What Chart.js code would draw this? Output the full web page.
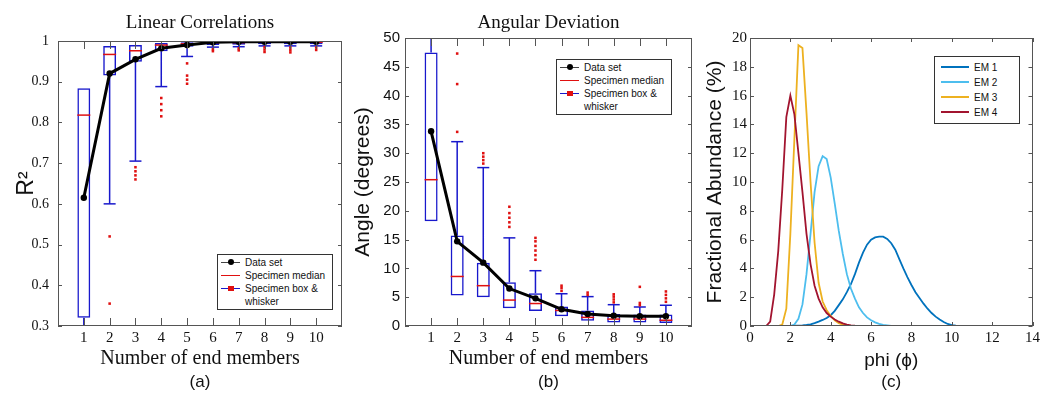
<!DOCTYPE html>
<html>
<head>
<meta charset="utf-8">
<script src="https://cdn.jsdelivr.net/npm/chart.js@4.4.1/dist/chart.umd.min.js"></script>
<style>
    body { margin: 0; background: #fff; }
    .panel { position: absolute; top: 0; height: 393px; }
    .legend {
        position: absolute; box-sizing: border-box; border: 1px solid #333; background: #fff;
        font: 10px 'Liberation Sans', Arial, sans-serif; color: #111; line-height: 13px; padding: 1px 3px;
    }
    .legend .row { display: flex; }
    .legend .key { position: relative; height: 13px; margin-right: 5px; flex: none; }
    .legend .key .ln { position: absolute; left: 0; right: 0; top: 6px; height: 1px; }
    .legend .key .mk { position: absolute; left: calc(50% - 3px); top: 3px; width: 6px; height: 6px; }
    .legend .key .dot { background: #000; border-radius: 50%; }
    .legend .key .sq { background: #e01010; top: 4px; height: 5px; }
</style>
</head>
<body>
<div class="panel" style="left:0;width:350px"><canvas id="chartA"></canvas></div>
<div class="panel" style="left:350px;width:350px"><canvas id="chartB"></canvas></div>
<div class="panel" style="left:700px;width:343px"><canvas id="chartC"></canvas></div>
<div id="legendA" class="legend" style="left:217px;top:254px;width:116px"></div>
<div id="legendB" class="legend" style="left:556px;top:59px;width:116px"></div>
<div id="legendC" class="legend" style="left:934px;top:56px;width:86px;line-height:15px;padding:3px 6px"></div>
<script>
const members = [1, 2, 3, 4, 5, 6, 7, 8, 9, 10];

// (a) linear correlations (R^2)
const r2DataSet = [0.615, 0.92, 0.955, 0.982, 0.99, 0.997, 0.998, 0.998, 0.998, 0.998];
const r2Median = [0.818, 0.967, 0.976, 0.990, 0.993, 0.996, 0.996, 0.997, 0.997, 0.997];
const r2Q1 = [0.32, 0.915, 0.949, 0.975, 0.986, 0.990, 0.991, 0.992, 0.992, 0.992];
const r2Q3 = [0.884, 0.988, 0.990, 0.995, 0.997, 0.998, 0.998, 0.999, 0.999, 0.999];
const r2Low = [0.28, 0.60, 0.705, 0.888, 0.962, 0.985, 0.986, 0.988, 0.988, 0.988];
const r2High = [0.884, 0.988, 0.990, 0.995, 0.997, 0.998, 0.998, 0.999, 0.999, 0.999];
const r2Outliers = [[], [0.52, 0.355], [0.66, 0.67, 0.68, 0.69], [0.815, 0.83, 0.845, 0.86],
    [0.945, 0.915, 0.905, 0.895], [0.975, 0.98], [0.977, 0.982], [0.973, 0.979, 0.985],
    [0.972, 0.978, 0.984], [0.978, 0.984]];

// (b) angular deviation (degrees)
const angleDataSet = [33.8, 14.7, 11.0, 6.5, 4.8, 2.9, 2.1, 1.8, 1.7, 1.7];
const angleMedian = [25.4, 8.6, 7.0, 4.5, 3.9, 2.7, 1.5, 1.2, 1.2, 1.0];
const angleQ1 = [18.2, 5.3, 5.0, 3.1, 2.6, 1.7, 0.9, 0.6, 0.6, 0.5];
const angleQ3 = [47.5, 15.7, 11.0, 7.6, 5.7, 3.4, 2.7, 2.1, 2.0, 2.0];
const angleLow = [18.2, 5.3, 5.0, 3.1, 2.6, 1.7, 0.9, 0.6, 0.6, 0.5];
const angleHigh = [55, 32.0, 27.5, 15.3, 9.6, 5.6, 5.1, 3.7, 3.3, 3.6];
const angleOutliers = [[], [33.7, 42.0, 47.3], [28.2, 28.8, 29.4, 30.0], [17.2, 18.0, 18.8, 19.6, 20.7],
    [11.5, 12.3, 13.1, 13.9, 14.7, 15.3], [6.1, 6.6, 7.0], [5.4, 5.8], [4.1, 4.6, 5.1, 5.5],
    [3.6, 4.0, 6.8], [4.2, 4.8, 5.4, 6.0]];

// (c) end member grain size distributions
const phi = [0, 0.2, 0.4, 0.6, 0.8, 1, 1.2, 1.4, 1.6, 1.8, 2, 2.2, 2.4, 2.6, 2.8, 3, 3.2, 3.4, 3.6, 3.8,
    4, 4.2, 4.4, 4.6, 4.8, 5, 5.2, 5.4, 5.6, 5.8, 6, 6.2, 6.4, 6.6, 6.8, 7, 7.2, 7.4, 7.6, 7.8,
    8, 8.2, 8.4, 8.6, 8.8, 9, 9.2, 9.4, 9.6, 9.8, 10, 10.2, 10.4, 10.6, 10.8, 11, 11.2, 11.4, 11.6, 11.8,
    12, 12.2, 12.4, 12.6, 12.8, 13];
const em1 = [0, 0, 0, 0, 0, 0, 0, 0, 0, 0,
    0.01, 0.02, 0.03, 0.05, 0.08, 0.12, 0.2, 0.3, 0.42, 0.55,
    0.75, 1.05, 1.45, 1.85, 2.35, 2.9, 3.6, 4.4, 5.1, 5.65,
    6.0, 6.15, 6.2, 6.2, 6.05, 5.75, 5.3, 4.65, 4.0, 3.4,
    2.85, 2.35, 1.95, 1.55, 1.2, 0.9, 0.65, 0.45, 0.28, 0.14,
    0.06, 0.02, 0, 0, 0, 0, 0, 0, 0, 0,
    0, 0, 0, 0, 0, 0];
const em2 = [0, 0, 0, 0, 0, 0, 0, 0, 0, 0,
    0, 0.1, 0.5, 1.5, 3.6, 6.4, 9.3, 11.1, 11.8, 11.6,
    10.3, 8.5, 6.6, 5.0, 3.6, 2.6, 1.9, 1.3, 0.9, 0.6,
    0.4, 0.25, 0.15, 0.08, 0.04, 0, 0, 0, 0, 0,
    0, 0, 0, 0, 0, 0, 0, 0, 0, 0,
    0, 0, 0, 0, 0, 0, 0, 0, 0, 0,
    0, 0, 0, 0, 0, 0];
const em3 = [0, 0, 0, 0, 0, 0, 0, 0, 0.1, 1.2,
    6.4, 13.0, 19.5, 19.3, 14.8, 10.0, 5.8, 3.0, 1.7, 1.1,
    0.7, 0.4, 0.2, 0.1, 0.04, 0, 0, 0, 0, 0,
    0, 0, 0, 0, 0, 0, 0, 0, 0, 0,
    0, 0, 0, 0, 0, 0, 0, 0, 0, 0,
    0, 0, 0, 0, 0, 0, 0, 0, 0, 0,
    0, 0, 0, 0, 0, 0];
const em4 = [0, 0, 0, 0, 0, 0.3, 2.2, 5.2, 9.5, 14.5,
    16.0, 14.7, 12.0, 9.3, 6.4, 4.3, 2.8, 1.9, 1.3, 0.9,
    0.65, 0.45, 0.3, 0.18, 0.1, 0.05, 0.02, 0, 0, 0,
    0, 0, 0, 0, 0, 0, 0, 0, 0, 0,
    0, 0, 0, 0, 0, 0, 0, 0, 0, 0,
    0, 0, 0, 0, 0, 0, 0, 0, 0, 0,
    0, 0, 0, 0, 0, 0];

const BLUE = '#1818cc';
const RED = '#e01010';
const SERIF = "'Liberation Serif', 'Times New Roman', serif";
const SANS = "'Liberation Sans', Arial, sans-serif";

Chart.defaults.animation = false;
Chart.defaults.events = [];
Chart.defaults.color = '#111';
Chart.defaults.plugins.legend.display = false;
Chart.defaults.plugins.tooltip.enabled = false;

// matlab style box with inward ticks on all four sides
const framePlugin = {
    id: 'frame',
    afterDatasetsDraw(chart, args, opts) {
        const { ctx, chartArea: a, scales } = chart;
        ctx.save();
        ctx.strokeStyle = '#555';
        ctx.lineWidth = 1;
        ctx.beginPath();
        scales.x.ticks.forEach((t, i) => {
            if (t.label === '') return;
            const px = Math.round(scales.x.getPixelForTick(i)) + 0.5;
            ctx.moveTo(px, a.bottom); ctx.lineTo(px, a.bottom - opts.xLen);
            ctx.moveTo(px, a.top); ctx.lineTo(px, a.top + opts.xLen);
        });
        scales.y.ticks.forEach((t, i) => {
            const py = Math.round(scales.y.getPixelForTick(i)) + 0.5;
            ctx.moveTo(a.left, py); ctx.lineTo(a.left + opts.yLen, py);
            ctx.moveTo(a.right, py); ctx.lineTo(a.right - opts.yLen, py);
        });
        ctx.stroke();
        ctx.strokeRect(Math.round(a.left) + 0.5, Math.round(a.top) + 0.5,
            Math.round(a.width) - 1, Math.round(a.height) - 1);
        ctx.restore();
    }
};

function boxDatasets(dataSet, median, q1, q3, low, high, outliers) {
    const whiskers = [];
    const caps = [];
    members.forEach((m, i) => {
        if (low[i] < q1[i]) {
            whiskers.push({ x: m, y: q1[i] }, { x: m, y: low[i] }, { x: m, y: null });
            caps.push({ x: m, y: low[i] });
        }
        if (high[i] > q3[i]) {
            whiskers.push({ x: m, y: q3[i] }, { x: m, y: high[i] }, { x: m, y: null });
            caps.push({ x: m, y: high[i] });
        }
    });
    const outlierPoints = [];
    outliers.forEach((list, i) => list.forEach(v => outlierPoints.push({ x: members[i], y: v })));

    return [
        {
            type: 'line', label: 'Data set', order: 0,
            data: members.map((m, i) => ({ x: m, y: dataSet[i] })),
            borderColor: '#000', borderWidth: 3, pointRadius: 3.2,
            pointBackgroundColor: '#000', pointBorderWidth: 0
        },
        {
            type: 'scatter', label: 'Outliers', order: 1, data: outlierPoints,
            pointStyle: 'rect', pointRadius: 1.8, backgroundColor: RED, borderWidth: 0
        },
        {
            type: 'scatter', label: 'Specimen median', order: 2,
            data: members.map((m, i) => ({ x: m, y: median[i] })),
            pointStyle: 'line', pointRadius: 6.5, borderColor: RED, borderWidth: 1.5
        },
        {
            type: 'scatter', label: 'Caps', order: 3, data: caps,
            pointStyle: 'line', pointRadius: 6, borderColor: BLUE, borderWidth: 1.5
        },
        {
            type: 'line', label: 'Whiskers', order: 4, data: whiskers,
            borderColor: BLUE, borderWidth: 1.5, pointRadius: 0, spanGaps: false
        },
        {
            type: 'bar', label: 'Specimen box & whisker', order: 5,
            data: members.map((m, i) => ({ x: m, y: [q1[i], q3[i]] })),
            backgroundColor: 'rgba(0,0,0,0)', borderColor: BLUE, borderWidth: 1.5,
            borderSkipped: false, barPercentage: 0.5, categoryPercentage: 1
        }
    ];
}

function memberAxis(xTitle) {
    return {
        type: 'linear', min: 0, max: 11, offset: false,
        grid: { display: false, drawTicks: false }, border: { display: false },
        ticks: {
            stepSize: 1, autoSkip: false, maxRotation: 0, padding: 3,
            font: { family: SERIF, size: 15 }, color: '#111',
            callback: v => (v >= 1 && v <= 10) ? String(v) : ''
        },
        title: { display: true, text: xTitle, font: { family: SERIF, size: 20, lineHeight: 1 }, padding: { top: 0, bottom: 4 }, color: '#111' },
        afterFit: s => { s.height = 47; }
    };
}

function panelLabel(text) {
    return {
        display: true, position: 'bottom', text: text, fullSize: false,
        font: { family: SANS, size: 17, weight: 'normal', lineHeight: 1 },
        padding: { top: 1, bottom: 2 }, color: '#111'
    };
}

new Chart(document.getElementById('chartA'), {
    type: 'bar',
    data: { datasets: boxDatasets(r2DataSet, r2Median, r2Q1, r2Q3, r2Low, r2High, r2Outliers) },
    options: {
        responsive: true, maintainAspectRatio: false,
        layout: { padding: { left: 0, right: 5, top: 0, bottom: 0 } },
        plugins: {
            title: {
                display: true, text: 'Linear Correlations', fullSize: false,
                font: { family: SERIF, size: 19, weight: 'normal', lineHeight: 1 },
                padding: { top: 14, bottom: 8 }, color: '#111'
            },
            subtitle: panelLabel('(a)'),
            frame: { xLen: 8, yLen: 4 }
        },
        scales: {
            x: memberAxis('Number of end members'),
            y: {
                min: 0.3, max: 1,
                grid: { display: false, drawTicks: false }, border: { display: false },
                ticks: {
                    stepSize: 0.1, padding: 9, font: { family: SERIF, size: 14 }, color: '#111',
                    callback: v => Math.abs(v - 1) < 1e-9 ? '1' : v.toFixed(1)
                },
                title: { display: true, text: 'R²', font: { family: SANS, size: 23, lineHeight: 1 }, padding: { top: 15 }, color: '#111' },
                afterFit: s => { s.width = 58; }
            }
        }
    },
    plugins: [framePlugin]
});

new Chart(document.getElementById('chartB'), {
    type: 'bar',
    data: { datasets: boxDatasets(angleDataSet, angleMedian, angleQ1, angleQ3, angleLow, angleHigh, angleOutliers) },
    options: {
        responsive: true, maintainAspectRatio: false,
        layout: { padding: { left: 0, right: 8, top: 0, bottom: 0 } },
        plugins: {
            title: {
                display: true, text: 'Angular Deviation', fullSize: false,
                font: { family: SERIF, size: 19, weight: 'normal', lineHeight: 1 },
                padding: { top: 14, bottom: 5 }, color: '#111'
            },
            subtitle: panelLabel('(b)'),
            frame: { xLen: 8, yLen: 4 }
        },
        scales: {
            x: memberAxis('Number of end members'),
            y: {
                min: 0, max: 50,
                grid: { display: false, drawTicks: false }, border: { display: false },
                ticks: { stepSize: 5, padding: 5, font: { family: SANS, size: 15 }, color: '#111' },
                title: { display: true, text: 'Angle (degrees)', font: { family: SANS, size: 21, lineHeight: 1 }, padding: { top: 3 }, color: '#111' },
                afterFit: s => { s.width = 55; }
            }
        }
    },
    plugins: [framePlugin]
});

const emColors = ['#0072bd', '#4dbeee', '#edb120', '#a2142f'];
const emSeries = [em1, em2, em3, em4];

new Chart(document.getElementById('chartC'), {
    type: 'line',
    data: {
        datasets: emSeries.map((s, k) => ({
            label: 'EM ' + (k + 1),
            data: phi.map((p, i) => ({ x: p, y: s[i] })),
            borderColor: emColors[k], borderWidth: 1.8, pointRadius: 0, tension: 0,
            order: 4 - k
        }))
    },
    options: {
        responsive: true, maintainAspectRatio: false,
        layout: { padding: { left: 0, right: 0, top: 38, bottom: 0 } },
        plugins: {
            subtitle: panelLabel('(c)'),
            frame: { xLen: 4, yLen: 4 }
        },
        scales: {
            x: {
                type: 'linear', min: 0, max: 14,
                grid: { display: false, drawTicks: false }, border: { display: false },
                ticks: { stepSize: 2, autoSkip: false, maxRotation: 0, padding: 3, font: { family: SERIF, size: 15 }, color: '#111' },
                title: { display: true, text: 'phi (ϕ)', font: { family: SANS, size: 19, lineHeight: 1 }, padding: { top: 0, bottom: 3 }, color: '#111' },
                afterFit: s => { s.height = 47; }
            },
            y: {
                min: 0, max: 20,
                grid: { display: false, drawTicks: false }, border: { display: false },
                ticks: { stepSize: 2, padding: 3, font: { family: SERIF, size: 15 }, color: '#111' },
                title: { display: true, text: 'Fractional Abundance (%)', font: { family: SANS, size: 21, lineHeight: 1 }, padding: { top: 5 }, color: '#111' },
                afterFit: s => { s.width = 50; }
            }
        }
    },
    plugins: [framePlugin]
});

function fillLegend(id, items, keyWidth) {
    const box = document.getElementById(id);
    items.forEach(item => {
        const row = document.createElement('div');
        row.className = 'row';
        const marker = item.marker ? '<span class="mk ' + item.marker + '"></span>' : '';
        row.innerHTML = '<span class="key" style="width:' + keyWidth + 'px"><span class="ln" style="background:' +
            item.color + ';height:' + (item.width || 1) + 'px"></span>' + marker + '</span><span>' + item.text + '</span>';
        box.appendChild(row);
    });
}

const boxLegendItems = [
    { text: 'Data set', color: '#444', marker: 'dot' },
    { text: 'Specimen median', color: RED },
    { text: 'Specimen box &amp;<br>whisker', color: BLUE, marker: 'sq' }
];
fillLegend('legendA', boxLegendItems, 19);
fillLegend('legendB', boxLegendItems, 19);
fillLegend('legendC', emSeries.map((s, k) => ({ text: 'EM ' + (k + 1), color: emColors[k], width: 1.5 })), 28);
</script>
</body>
</html>
